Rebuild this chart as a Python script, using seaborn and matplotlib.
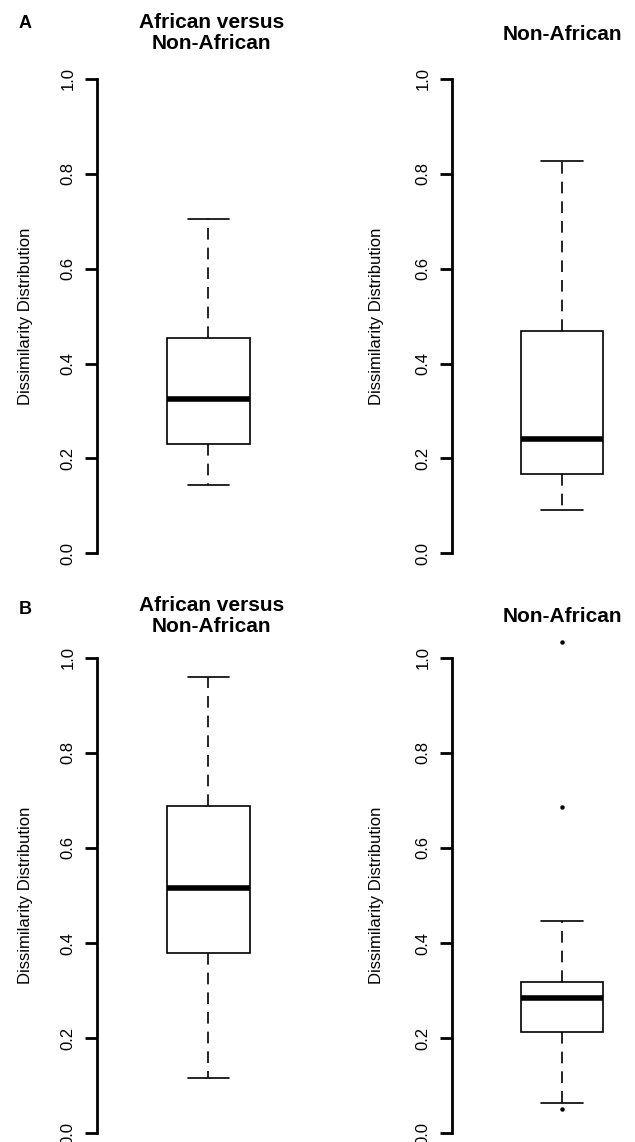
import matplotlib
matplotlib.use("Agg")
import matplotlib.pyplot as plt
import seaborn as sns
import numpy as np
import pandas as pd

# five-number summaries:
# lower whisker, Q1, median, Q3, upper whisker
a_between = [0.145, 0.231, 0.326, 0.454, 0.705]
a_within = [0.091, 0.168, 0.242, 0.469, 0.828]
b_between = [0.117, 0.379, 0.516, 0.688, 0.959]
b_within = [0.063, 0.214, 0.284, 0.318, 0.447]
b_within_outliers = [0.051, 0.686, 1.034]

panel_letters = ["A", "B"]
titles = ["African versus\nNon-African", "Non-African"]
ylabel = "Dissimilarity Distribution"
yticks = [0.0, 0.2, 0.4, 0.6, 0.8, 1.0]
ytick_labels = ["0.0", "0.2", "0.4", "0.6", "0.8", "1.0"]

sns.set_style("white")
plt.rcParams["font.family"] = ["Liberation Sans", "DejaVu Sans"]
plt.rcParams["text.color"] = "black"
plt.rcParams["axes.labelcolor"] = "black"
plt.rcParams["ytick.color"] = "black"
plt.rcParams["ytick.labelcolor"] = "black"

W, H = 635, 1142
fig = plt.figure(figsize=(W / 100, H / 100), dpi=100)


def px_x(x):
    return x / W


def px_y(y):
    return 1 - y / H


# axes boxes in pixels: (spine x, width, top y, bottom y)
layout = [
    (96.7, 223.5, 60.0, 572.3),
    (451.5, 221.0, 60.0, 572.3),
    (96.7, 223.5, 638.7, 1152.3),
    (451.5, 221.0, 638.7, 1152.3),
]
ylabel_x = [25.0, 376.7, 25.0, 376.7]

data = [a_between, a_within, b_between, b_within]
outliers = [[], [], [], b_within_outliers]

for i, (vals, extra) in enumerate(zip(data, outliers)):
    left, width, top, bottom = layout[i]
    ax = fig.add_axes([px_x(left), px_y(bottom), width / W, (bottom - top) / H])
    df = pd.DataFrame({"value": vals})
    sns.boxplot(data=df, y="value", ax=ax, color="white", saturation=1,
                linecolor="black", linewidth=1.2, width=0.8, whis=1.5,
                medianprops=dict(linewidth=4, color="black"),
                whiskerprops=dict(linestyle=(0, (7, 4.8))),
                showfliers=False)
    if extra:
        sns.stripplot(y=extra, ax=ax, color="black", size=3.2, jitter=False)

    ax.set_xlim(-1.074, 1.074)
    ax.set_ylim(-0.04, 1.04)
    ax.set_xticks([])
    ax.set_xlabel("")
    for s in ["top", "right", "bottom"]:
        ax.spines[s].set_visible(False)
    ax.spines["left"].set_linewidth(2)
    ax.spines["left"].set_color("black")
    ax.spines["left"].set_bounds(0, 1)
    ax.set_yticks(yticks)
    ax.set_yticklabels(ytick_labels, rotation=90, va="center")
    ax.tick_params(axis="y", direction="out", length=8.6, width=2,
                   pad=6.5, labelsize=12, left=True, color="black",
                   labelcolor="black")
    ax.set_ylabel(ylabel, fontsize=12, color="black")
    ax.yaxis.label.set_verticalalignment("center")
    ax.yaxis.set_label_coords((ylabel_x[i] - left) / width, 0.5)
    ax.patch.set_alpha(0)

# panel titles and letters
title_pos = [(211.5, 32.7), (562.0, 34.5), (211.5, 616.0), (562.0, 616.3)]
for i, (tx, ty) in enumerate(title_pos):
    fig.text(px_x(tx), px_y(ty), titles[i % 2], ha="center", va="center",
             fontsize=15, fontweight="bold", linespacing=1.15, color="black")

for letter, ly in zip(panel_letters, [23.0, 609.0]):
    fig.text(px_x(25), px_y(ly), letter, ha="center", va="center",
             fontsize=13, fontweight="bold", color="black")

fig.savefig("out.png", dpi=100, facecolor="white")
